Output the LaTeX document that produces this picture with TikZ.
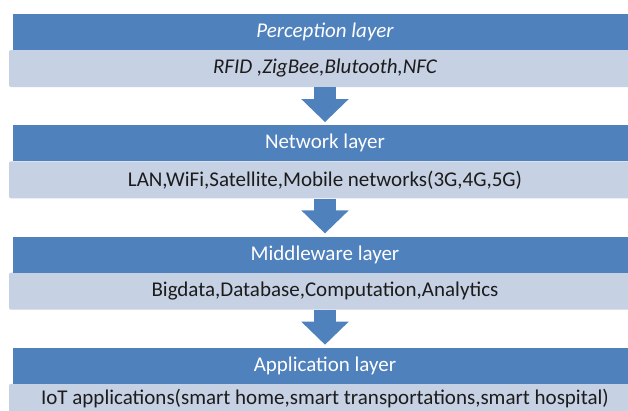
\documentclass[tikz,border=0pt]{standalone}
\usepackage{fontspec}
\setmainfont{Carlito}
\usepackage{xcolor}
\definecolor{layerblue}{HTML}{4F81BD}
\definecolor{layerpale}{HTML}{C6D1E4}
\definecolor{layerink}{HTML}{1C1C1C}
\usetikzlibrary{arrows.meta, positioning, calc}

\tikzset{
  layerhead/.style={rectangle, fill=layerblue, text=white, minimum width=624pt,
    minimum height=36pt, inner sep=0pt, font=\fontsize{21}{24}\selectfont},
  layerbody/.style={rectangle, fill=layerpale, minimum width=632pt,
    minimum height=37pt, inner sep=0pt, rounded corners=2pt},
  layertext/.style={text=layerink, font=\fontsize{21}{24}\selectfont},
  layerflow/.style={draw=layerblue, line width=22pt,
    -{Triangle[length=23pt, width=46pt]}, shorten >=3pt}
}

\begin{document}
\begin{tikzpicture}[x=1pt, y=1pt]
      \useasboundingbox (0,0) rectangle (628,-410);
      \clip (0,0) rectangle (628,-410);
      \foreach \i/\lift/\head/\body [evaluate=\i as \y using -32-111.3*\i] in {
        0/0/{\itshape Perception layer}/{\itshape RFID ,ZigBee,Blutooth,NFC},
        1/0/{Network layer}/{LAN,WiFi,Satellite,Mobile networks(3G,4G,5G)},
        2/0/{Middleware layer}/{Bigdata,Database,Computation,Analytics},
        3/4/{Application layer}/{IoT applications(smart home,smart transportations,smart hospital)}}{
        \node[layerbody] (l\i) at (325,\y-36.5) {};
        \node[layertext] (t\i) at ([yshift=\lift pt]l\i.center) {\body};
        \node[layerhead] (h\i) at (325,\y) {\head};
      }
      % arrows between the layers
      \foreach \i/\j in {0/1, 1/2, 2/3}
        \draw[layerflow] (l\i.south) -- (h\j.north);
    \end{tikzpicture}
\end{document}
